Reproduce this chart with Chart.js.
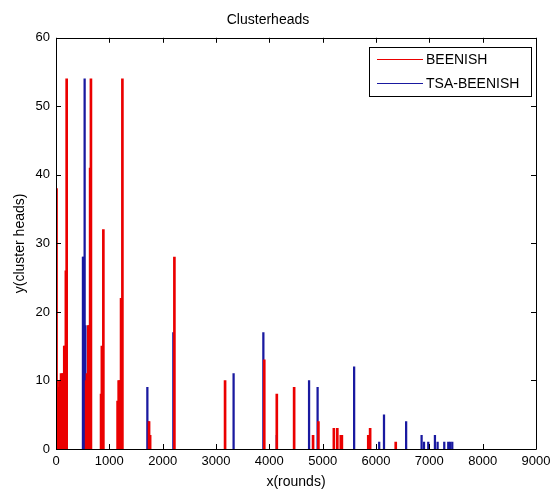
<!DOCTYPE html>
<html>
<head>
<meta charset="utf-8">
<script src="https://cdn.jsdelivr.net/npm/chart.js@4"></script>
<style>
  body { margin: 0; background: #fff; }
  canvas { display: block; }
</style>
</head>
<body>
<canvas id="chart" width="557" height="491"></canvas>
<script>
// rounds where a spike appears, and number of cluster heads at that round
const beenishRounds = [10, 20, 30, 40, 50, 60, 70, 80, 95, 110, 125, 140, 155, 170, 185, 200,
    565, 580, 595, 605, 620, 640, 655,
    845, 860, 888,
    1155, 1175, 1195, 1220, 1245,
    1745, 1765, 2220, 3170, 3905, 4140, 4465,
    4820, 4920, 5210, 5275, 5340, 5360, 5855, 5890, 6370];
const beenishHeads = [38, 9, 10, 9, 8, 9, 8, 10, 11, 10, 11, 11, 15, 15, 26, 54,
    10, 11, 10, 18, 18, 41, 54,
    8, 15, 32,
    7, 10, 10, 22, 54,
    4, 2, 28, 10, 13, 8, 9,
    2, 4, 3, 3, 2, 2, 2, 3, 1];

const tsaRounds = [505, 515, 537, 552, 1713, 1735, 1755, 2200, 3330, 3888, 4140,
    4745, 4905, 5590, 6060, 6150, 6565, 6855, 6900, 6980, 7105, 7155, 7280, 7355, 7390, 7430];
const tsaHeads = [28, 28, 54, 18, 9, 4, 2, 17, 11, 17, 2,
    10, 9, 12, 1, 5, 4, 2, 1, 1, 2, 1, 1, 1, 1, 1];

const xTicks = [0, 1000, 2000, 3000, 4000, 5000, 6000, 7000, 8000, 9000];
const yTicks = [0, 10, 20, 30, 40, 50, 60];

const seriesNames = ["BEENISH", "TSA-BEENISH"];
const seriesColors = ["rgb(235,0,0)", "rgb(25,25,160)"];

const toPoints = (xs, ys) => xs.map((x, i) => ({ x: x, y: ys[i] }));

const FONT = "'Liberation Sans', Arial, sans-serif";

// matlab style box with inward ticks
const axesBox = {
    id: "axesBox",
    afterDatasetsDraw(chart) {
        const { ctx, chartArea: a, scales } = chart;
        ctx.save();
        ctx.strokeStyle = "#000";
        ctx.lineWidth = 1;
        ctx.beginPath();
        ctx.rect(Math.round(a.left) + 0.5, Math.round(a.top) + 0.5,
            Math.round(a.right - a.left), Math.round(a.bottom - a.top));
        xTicks.forEach((t) => {
            const px = Math.round(scales.x.getPixelForValue(t)) + 0.5;
            ctx.moveTo(px, a.bottom);
            ctx.lineTo(px, a.bottom - 5);
            ctx.moveTo(px, a.top);
            ctx.lineTo(px, a.top + 5);
        });
        yTicks.forEach((t) => {
            const py = Math.round(scales.y.getPixelForValue(t)) + 0.5;
            ctx.moveTo(a.left, py);
            ctx.lineTo(a.left + 5, py);
            ctx.moveTo(a.right, py);
            ctx.lineTo(a.right - 5, py);
        });
        ctx.stroke();
        ctx.restore();
    },
    afterDraw(chart) {
        const { ctx, chartArea: a } = chart;
        const boxR = a.right - 5, boxT = a.top + 9;
        const boxW = 162, boxH = 49;
        const boxL = boxR - boxW;
        ctx.save();
        ctx.fillStyle = "#fff";
        ctx.fillRect(boxL, boxT, boxW, boxH);
        ctx.strokeStyle = "#000";
        ctx.lineWidth = 1;
        ctx.strokeRect(Math.round(boxL) + 0.5, Math.round(boxT) + 0.5, boxW, boxH);
        ctx.font = "14px " + FONT;
        ctx.textBaseline = "middle";
        seriesNames.forEach((name, i) => {
            const cy = Math.round(boxT + 12 + i * 24) + 0.5;
            ctx.strokeStyle = seriesColors[i];
            ctx.lineWidth = 1;
            ctx.beginPath();
            ctx.moveTo(Math.round(boxL) + 8, cy);
            ctx.lineTo(Math.round(boxL) + 54, cy);
            ctx.stroke();
            ctx.fillStyle = "#000";
            ctx.fillText(name, boxL + 57, cy + 1);
        });
        ctx.restore();
    }
};

new Chart(document.getElementById("chart"), {
    type: "bar",
    data: {
        datasets: [
            {
                label: seriesNames[0],
                data: toPoints(beenishRounds, beenishHeads),
                backgroundColor: seriesColors[0],
                barThickness: 2,
            },
            {
                label: seriesNames[1],
                data: toPoints(tsaRounds, tsaHeads),
                backgroundColor: seriesColors[1],
                barThickness: 1.6,
            },
        ],
    },
    options: {
        responsive: false,
        animation: false,
        grouped: false,
        layout: { padding: { left: 0, right: 21, top: 0, bottom: 0 } },
        plugins: {
            legend: { display: false },
            tooltip: { enabled: false },
            title: {
                display: true,
                text: "Clusterheads",
                color: "#000",
                font: { family: FONT, size: 14, weight: "normal" },
                padding: { top: 12, bottom: 9 },
            },
        },
        scales: {
            x: {
                type: "linear",
                min: 0,
                max: 9000,
                offset: false,
                grid: { display: false, drawTicks: false },
                border: { display: false },
                afterBuildTicks: (s) => { s.ticks = xTicks.map((v) => ({ value: v })); },
                ticks: {
                    color: "#000", padding: 5, maxRotation: 0,
                    font: { family: FONT, size: 13 },
                    callback: (v) => String(v),
                },
                title: {
                    display: true,
                    text: "x(rounds)",
                    color: "#000",
                    font: { family: FONT, size: 14 },
                    padding: { top: 0, bottom: 0 },
                },
                afterFit: (s) => { s.height = 42; },
            },
            y: {
                min: 0,
                max: 60,
                grid: { display: false, drawTicks: false },
                border: { display: false },
                afterBuildTicks: (s) => { s.ticks = yTicks.map((v) => ({ value: v })); },
                ticks: {
                    color: "#000", padding: 6,
                    font: { family: FONT, size: 13 },
                    callback: (v) => String(v),
                },
                title: {
                    display: true,
                    text: "y(cluster heads)",
                    color: "#000",
                    font: { family: FONT, size: 14 },
                    padding: { top: 12, bottom: 0 },
                },
                afterFit: (s) => { s.width = 56; },
            },
        },
    },
    plugins: [axesBox],
});
</script>
</body>
</html>
